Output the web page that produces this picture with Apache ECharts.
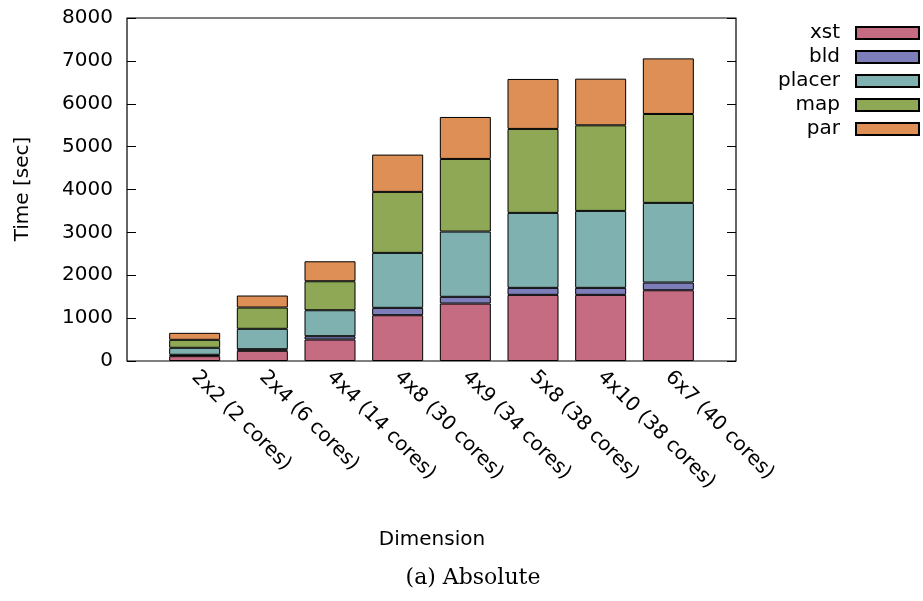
<!DOCTYPE html>
<html>
<head>
<meta charset="utf-8">
<script src="https://cdn.jsdelivr.net/npm/echarts@6/dist/echarts.min.js"></script>
<style>
  html, body { margin: 0; padding: 0; background: #fff; }
  #chart { width: 923px; height: 601px; }
</style>
</head>
<body>
<div id="chart"></div>
<script>
// Mesh dimensions run on the platform
const categories = ['2x2 (2 cores)', '2x4 (6 cores)', '4x4 (14 cores)', '4x8 (30 cores)',
                    '4x9 (34 cores)', '5x8 (38 cores)', '4x10 (38 cores)', '6x7 (40 cores)'];

// Time spent per flow stage, seconds
const xst    = [112, 238, 501, 1068, 1340, 1543, 1543, 1650];
const bld    = [33, 37, 77, 172, 157, 163, 163, 180];
const placer = [163, 476, 606, 1282, 1522, 1749, 1795, 1858];
const map    = [186, 496, 676, 1422, 1694, 1958, 1996, 2074];
const par    = [163, 280, 466, 870, 979, 1165, 1088, 1296];

const yTicks = [0, 1000, 2000, 3000, 4000, 5000, 6000, 7000, 8000];

const stages = [
  { name: 'xst',    data: xst,    color: '#c56c82' },
  { name: 'bld',    data: bld,    color: '#7d7db9' },
  { name: 'placer', data: placer, color: '#80b1b1' },
  { name: 'map',    data: map,    color: '#8ea856' },
  { name: 'par',    data: par,    color: '#dd8f56' }
];

// One empty slot on each side of the bars, as in a gnuplot histogram range
const xSlots = [''].concat(categories, ['']);
const padded = arr => [null].concat(arr, [null]);

const FONT = 'DejaVu Sans';
const chart = echarts.init(document.getElementById('chart'), null, { renderer: 'canvas' });

const yAxisCommon = {
  type: 'value',
  min: yTicks[0],
  max: yTicks[yTicks.length - 1],
  interval: 1000,
  splitLine: { show: false },
  axisLine: { show: false, onZero: false },
  axisTick: { show: true, inside: true, length: 9, lineStyle: { color: '#000', width: 1 } }
};

chart.setOption({
  animation: false,
  backgroundColor: '#fff',
  grid: {
    left: 127, right: 187, top: 18, bottom: 240,
    show: true, borderColor: '#000', borderWidth: 1.2, backgroundColor: 'transparent'
  },
  legend: {
    orient: 'vertical',
    right: -2,
    top: 18,
    align: 'right',
    itemWidth: 63,
    itemHeight: 12,
    itemGap: 4,
    icon: 'rect',
    selectedMode: false,
    textStyle: { fontFamily: FONT, fontSize: 20, color: '#000', lineHeight: 20, padding: [0, 11, 0, 0] },
    data: stages.map(s => s.name)
  },
  xAxis: {
    type: 'category',
    data: xSlots,
    boundaryGap: false,
    splitLine: { show: false },
    axisLine: { show: false, onZero: false },
    axisTick: { show: false },
    axisLabel: {
      interval: 0,
      rotate: -45,
      margin: 13,
      fontFamily: FONT,
      fontSize: 20,
      color: '#000'
    }
  },
  yAxis: [
    Object.assign({}, yAxisCommon, {
      position: 'left',
      axisLabel: { fontFamily: FONT, fontSize: 20, color: '#000', margin: 14, formatter: v => String(v) }
    }),
    Object.assign({}, yAxisCommon, {
      position: 'right',
      axisLabel: { show: false }
    })
  ],
  series: stages.map(s => ({
    name: s.name,
    type: 'bar',
    stack: 'total',
    barWidth: 51,
    data: padded(s.data),
    itemStyle: { color: s.color, borderColor: '#000', borderWidth: 1 }
  })),
  graphic: [
    {
      type: 'text',
      x: 23, y: 189,
      rotation: Math.PI / 2,
      style: { text: 'Time [sec]', font: '20px "DejaVu Sans"', fill: '#000', align: 'center', verticalAlign: 'middle' }
    },
    {
      type: 'text',
      x: 432, y: 540,
      style: { text: 'Dimension', font: '20px "DejaVu Sans"', fill: '#000', align: 'center', verticalAlign: 'middle' }
    },
    {
      type: 'text',
      x: 473, y: 578,
      style: { text: '(a) Absolute', font: '22px "DejaVu Serif"', fill: '#000', align: 'center', verticalAlign: 'middle' }
    }
  ]
});
</script>
</body>
</html>
